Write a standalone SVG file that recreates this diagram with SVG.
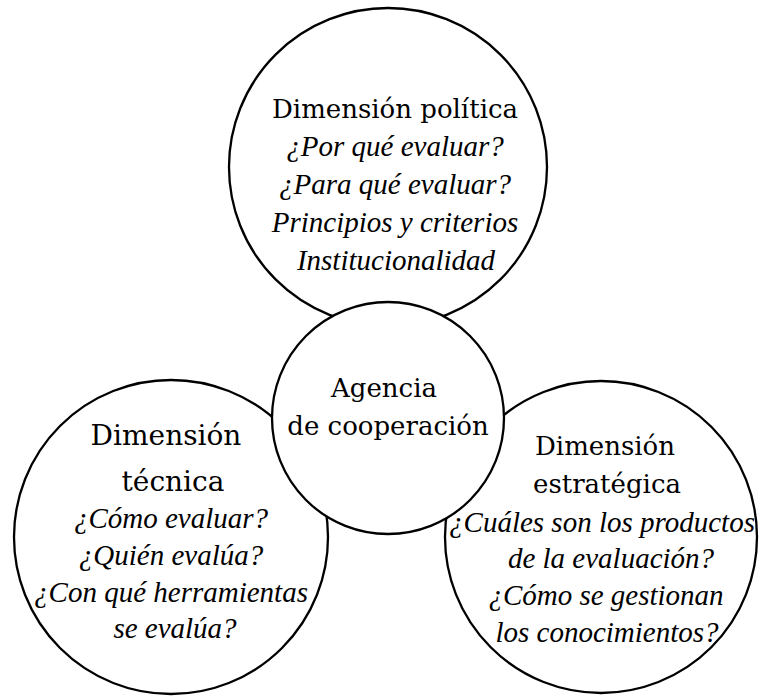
<svg xmlns="http://www.w3.org/2000/svg" width="759" height="698" viewBox="0 0 759 698">
<style>
.c{fill:#fff;stroke:#000;stroke-width:2.3}
text{font-family:"DejaVu Serif","Liberation Serif",serif;font-size:26px;fill:#000;text-anchor:middle}
.i{font-family:"Liberation Serif","DejaVu Serif",serif;font-style:italic;font-size:29px}
</style>
<rect width="759" height="698" fill="#fff"/>
<g id="politica">
<circle class="c" cx="388" cy="167" r="159"/>
<text x="395" y="118">Dimensión política</text>
<text class="i" x="395" y="156">¿Por qué evaluar?</text>
<text class="i" x="395" y="194">¿Para qué evaluar?</text>
<text class="i" x="395" y="232">Principios y criterios</text>
<text class="i" x="396" y="270">Institucionalidad</text>
</g>
<g id="tecnica">
<circle class="c" cx="171" cy="537" r="157"/>
<text x="166" y="445" style="font-size:28px">Dimensión</text>
<text x="173" y="491" style="font-size:28px">técnica</text>
<text class="i" x="171" y="528">¿Cómo evaluar?</text>
<text class="i" x="171" y="565">¿Quién evalúa?</text>
<text class="i" x="171" y="602">¿Con qué herramientas</text>
<text class="i" x="175" y="638">se evalúa?</text>
</g>
<g id="estrategica">
<circle class="c" cx="601" cy="537" r="156"/>
<text x="605" y="455">Dimensión</text>
<text x="607" y="493">estratégica</text>
<text class="i" x="602" y="532">¿Cuáles son los productos</text>
<text class="i" x="611" y="568">de la evaluación?</text>
<text class="i" x="606" y="605">¿Cómo se gestionan</text>
<text class="i" x="607" y="642">los conocimientos?</text>
</g>
<g id="agencia">
<circle class="c" cx="388" cy="418" r="116"/>
<text x="384" y="397">Agencia</text>
<text x="388" y="435">de cooperación</text>
</g>
<g id="connectors"></g>
</svg>
